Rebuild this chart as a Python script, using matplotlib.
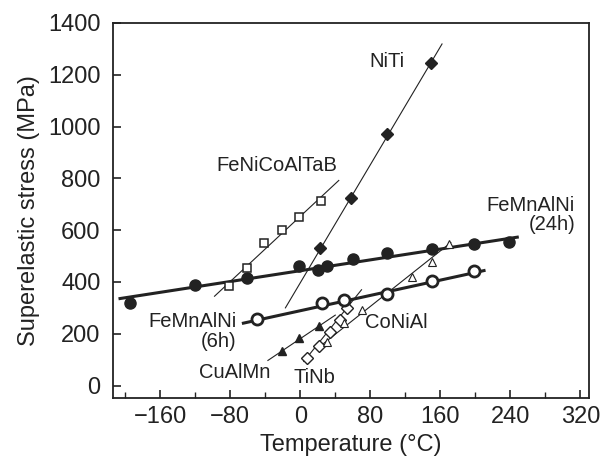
"""Superelastic stress vs temperature for several shape memory alloys."""
import matplotlib
matplotlib.use('Agg')
import matplotlib.pyplot as plt
from matplotlib.ticker import MultipleLocator

plt.rcParams.update({
    'font.family': ['Liberation Sans', 'DejaVu Sans'],
    'font.size': 17,
    'text.color': '#222222',
    'axes.labelcolor': '#222222',
    'xtick.color': '#222222',
    'ytick.color': '#222222',
})

# ---------------------------------------------------------------------------
# Data (temperature in degC, stress in MPa)
# ---------------------------------------------------------------------------
niti_t = [23, 58, 99, 149]
niti_s = [532, 725, 973, 1244]
niti_fit_t = [-17, 162]
niti_fit_s = [300, 1319]

fenico_t = [-81, -61, -42, -21, -1, 24]
fenico_s = [386, 454, 551, 599, 652, 712]
fenico_fit_t = [-98, 44]
fenico_fit_s = [345, 792]

femn24_t = [-195, -120, -61, -1, 20, 30, 60, 99, 150, 198, 239]
femn24_s = [319, 387, 416, 461, 448, 463, 490, 512, 528, 547, 555]
femn24_fit_t = [-206, 248]
femn24_fit_s = [336, 573]

femn6_t = [-50, 25, 49.5, 99, 150, 198]
femn6_s = [257, 317, 330, 354, 403, 441]
femn6_fit_t = [-65, 210]
femn6_fit_s = [241, 444]

cualmn_t = [-21, -1, 21]
cualmn_s = [135, 182, 231]
cualmn_fit_t = [-37, 40]
cualmn_fit_s = [97, 272]

tinb_t = [8, 21, 34, 45, 53]
tinb_s = [106, 154, 205, 254, 300]
tinb_fit_t = [4, 70]
tinb_fit_s = [93, 370]

conial_t = [30, 50, 70, 128, 150, 170]
conial_s = [170, 242, 292, 421, 477, 547]
conial_fit_t = [22, 172]
conial_fit_s = [150, 552]

INK = '#222222'
THIN = 0.8
THICK = 2.2

fig = plt.figure(figsize=(6.06, 4.58), dpi=100)
ax = fig.add_axes([0.1865, 0.131, 0.7855, 0.8188])

# fitted lines
ax.plot(niti_fit_t, niti_fit_s, color=INK, lw=THIN, zorder=2)
ax.plot(fenico_fit_t, fenico_fit_s, color=INK, lw=THIN, zorder=2)
ax.plot(femn24_fit_t, femn24_fit_s, color=INK, lw=THICK, zorder=2)
ax.plot(femn6_fit_t, femn6_fit_s, color=INK, lw=THICK, zorder=2)
ax.plot(cualmn_fit_t, cualmn_fit_s, color=INK, lw=THIN, zorder=2)
ax.plot(tinb_fit_t, tinb_fit_s, color=INK, lw=THIN, zorder=2)
ax.plot(conial_fit_t, conial_fit_s, color=INK, lw=THIN, zorder=2)

# measured points
ax.plot(niti_t, niti_s, 'D', ms=6, color=INK, zorder=4)
ax.plot(fenico_t, fenico_s, 's', ms=5.5, mfc='white', mec=INK, mew=1.1, zorder=4)
ax.plot(femn24_t, femn24_s, 'o', ms=8, color=INK, zorder=4)
ax.plot(femn6_t, femn6_s, 'o', ms=8, mfc='white', mec=INK, mew=2.0, zorder=4)
ax.plot(cualmn_t, cualmn_s, '^', ms=6, color=INK, zorder=4)
ax.plot(tinb_t, tinb_s, 'D', ms=6.5, mfc='white', mec=INK, mew=1.0, zorder=3)
ax.plot(conial_t, conial_s, '^', ms=6, mfc='white', mec=INK, mew=0.8, zorder=3)

# labels
ax.text(99, 1253, 'NiTi', ha='center', va='center', fontsize=14.5)
ax.text(-27, 848, 'FeNiCoAlTaB', ha='center', va='center', fontsize=14.5)
ax.text(314, 659, 'FeMnAlNi\n(24h)', ha='right', va='center', fontsize=14.5,
        multialignment='right', linespacing=1.05)
ax.text(-73, 210, 'FeMnAlNi\n(6h)', ha='right', va='center', fontsize=14.5,
        multialignment='right', linespacing=1.05)
ax.text(-75, 50, 'CuAlMn', ha='center', va='center', fontsize=14.5)
ax.text(16, 30, 'TiNb', ha='center', va='center', fontsize=14.5)
ax.text(110, 244, 'CoNiAl', ha='center', va='center', fontsize=14.5)

ax.set_xlim(-214, 330)
ax.set_ylim(-48, 1400)
ax.xaxis.set_major_locator(MultipleLocator(80))
ax.xaxis.set_minor_locator(MultipleLocator(40))
ax.yaxis.set_major_locator(MultipleLocator(200))
ax.tick_params(axis='both', which='major', direction='in', length=6, width=1.2,
               labelsize=17, top=False, right=False)
ax.tick_params(axis='x', which='minor', direction='in', length=4, width=1.0,
               top=False)
ax.tick_params(axis='x', which='major', pad=6)
ax.tick_params(axis='y', which='major', pad=9)
for sp in ax.spines.values():
    sp.set_linewidth(1.3)
    sp.set_color(INK)

ax.set_xlabel('Temperature (°C)', fontsize=17, labelpad=4)
ax.set_ylabel('Superelastic stress (MPa)', fontsize=17, labelpad=6)

fig.savefig('out.png', dpi=100)
